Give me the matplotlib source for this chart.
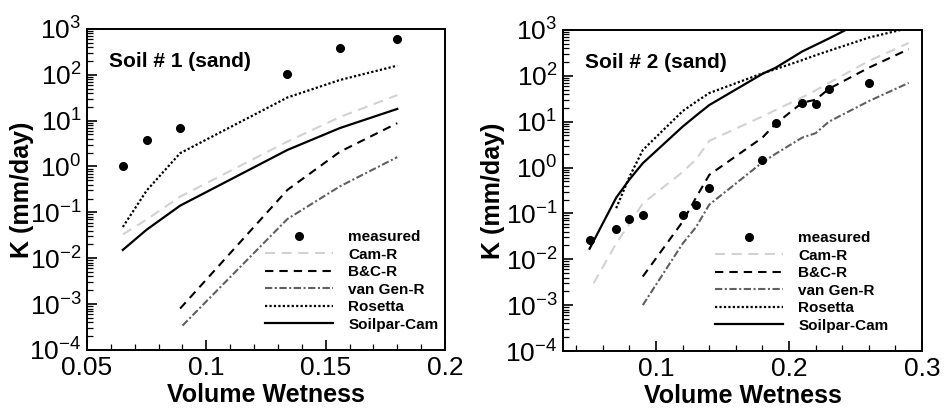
import matplotlib
matplotlib.use('Agg')
import matplotlib.pyplot as plt
from matplotlib.ticker import LogLocator, MultipleLocator, NullFormatter

plt.rcParams['font.family'] = ['Liberation Sans', 'DejaVu Sans']
plt.rcParams['mathtext.fontset'] = 'custom'
plt.rcParams['mathtext.rm'] = 'Liberation Sans'
plt.rcParams['mathtext.it'] = 'Liberation Sans:italic'
plt.rcParams['mathtext.bf'] = 'Liberation Sans:bold'

#--- Soil # 1

s1_measured_x = [0.065, 0.075, 0.089, 0.134, 0.156, 0.18]
s1_measured_k = [1.0, 3.7, 7.0, 105, 390, 610]

s1_model_x = [0.065, 0.075, 0.089, 0.134, 0.156, 0.18]
s1_cam_r = [0.033, 0.07, 0.22, 3.5, 12, 36]
s1_rosetta = [0.048, 0.3, 1.95, 32, 77, 158]
s1_soilpar = [0.0152, 0.042, 0.14, 2.3, 6.9, 18]

s1_bc_x = [0.089, 0.134, 0.156, 0.18]
s1_bc_r = [0.0008, 0.31, 2.1, 8.8]
s1_vg_x = [0.09, 0.134, 0.156, 0.18]
s1_vg_r = [0.00034, 0.072, 0.37, 1.6]

s1_xticks = [0.05, 0.1, 0.15, 0.2]

#--- Soil # 2

s2_measured_x = [0.05, 0.07, 0.08, 0.09, 0.12, 0.13, 0.14, 0.18, 0.19, 0.21, 0.22, 0.23, 0.26]
s2_measured_k = [0.026, 0.046, 0.076, 0.093, 0.093, 0.153, 0.355, 1.45, 9.2, 26, 24.3, 51, 71]

s2_cam_x = [0.053, 0.07, 0.08, 0.09, 0.12, 0.13, 0.14, 0.18, 0.19, 0.21, 0.22, 0.23, 0.26, 0.29]
s2_cam_r = [0.003, 0.022, 0.06, 0.165, 0.8, 1.5, 3.8, 13, 18, 34, 48, 70, 210, 520]

s2_bc_x = [0.09, 0.12, 0.13, 0.14, 0.18, 0.19, 0.21, 0.22, 0.23, 0.26, 0.29]
s2_bc_r = [0.0042, 0.066, 0.22, 0.69, 4.5, 9, 26, 30, 52, 150, 380]
s2_vg_r = [0.001, 0.022, 0.05, 0.155, 1.3, 2.0, 4.5, 5.6, 10, 28, 70]

s2_rosetta_x = [0.07, 0.08, 0.09, 0.12, 0.13, 0.14, 0.18, 0.19, 0.21, 0.22, 0.23, 0.26, 0.29]
s2_rosetta = [0.13, 0.63, 2.4, 17, 27, 42, 113, 140, 220, 280, 350, 680, 1100]

s2_soilpar_x = [0.05, 0.07, 0.08, 0.09, 0.12, 0.13, 0.14, 0.18, 0.19, 0.21, 0.22, 0.23, 0.26, 0.29]
s2_soilpar = [0.017, 0.22, 0.55, 1.24, 7.8, 13.5, 23, 110, 150, 340, 470, 650, 1800, 3000]

s2_xticks = [0.1, 0.2, 0.3]

k_ticks = [1e-4, 1e-3, 1e-2, 1e-1, 1e0, 1e1, 1e2, 1e3]

#---

CAM_STYLE = dict(color='#d2d2d2', lw=1.5, ls=(0, (4.8, 3.2)))
BC_STYLE = dict(color='black', lw=1.5, ls=(0, (4, 2.9)))
VG_STYLE = dict(color='#606060', lw=1.5, ls=(0, (3.5, 1.2, 1, 1.2)))
ROS_STYLE = dict(color='black', lw=1.6, ls=(0, (1, 1)))
SOIL_STYLE = dict(color='black', lw=1.6, ls='-')


def DrawPanel(ax, title, mx, mk, curves, xlim, xticks, xminor, legend_x, ylabel_x):
    ax.plot(mx, mk, 'o', color='black', ms=5.5, label='measured', zorder=5)
    for x, y, style, label in curves:
        ax.plot(x, y, label=label, **style)

    ax.set_yscale('log')
    ax.set_ylim(1e-4, 1e3)
    ax.set_xlim(*xlim)
    ax.set_xticks(xticks)
    ax.set_xticklabels([f'{v:g}' for v in xticks])
    ax.xaxis.set_minor_locator(MultipleLocator(xminor))
    ax.set_yticks(k_ticks)
    ax.yaxis.set_minor_locator(LogLocator(base=10, subs=range(2, 10), numticks=20))
    ax.yaxis.set_minor_formatter(NullFormatter())
    ax.set_ylim(1e-4, 1e3)
    ax.set_xlim(*xlim)

    ax.tick_params(which='both', direction='in', top=False, right=False, labelsize=19)
    ax.tick_params(which='major', length=7, width=1.2)
    ax.tick_params(which='minor', length=4, width=0.9)
    ax.tick_params(axis='x', pad=4)
    ax.tick_params(axis='y', pad=4)
    for s in ax.spines.values():
        s.set_linewidth(1.4)

    # labels
    ax.set_xlabel('Volume Wetness', fontsize=18, fontweight='bold', labelpad=2.5)
    ax.set_ylabel('K (mm/day)', fontsize=18, fontweight='bold')
    ax.yaxis.set_label_coords(ylabel_x, 0.5)
    ax.text(0.062, 0.897, title, transform=ax.transAxes, fontsize=15,
            fontweight='bold', va='center', ha='left')

    ax.legend(loc='upper left', bbox_to_anchor=(legend_x, 0.373), frameon=False,
              prop={'weight': 'bold', 'size': 11}, labelspacing=0.23,
              handlelength=4.45, handletextpad=1.0, borderpad=0, borderaxespad=0,
              numpoints=1)


fig = plt.figure(figsize=(9.44, 4.08), dpi=100)
ax1 = fig.add_axes([0.0922, 0.1422, 0.3792, 0.787])
ax2 = fig.add_axes([0.5964, 0.1397, 0.3803, 0.787])

DrawPanel(ax1, 'Soil # 1 (sand)', s1_measured_x, s1_measured_k,
          [(s1_model_x, s1_cam_r, CAM_STYLE, 'Cam-R'),
           (s1_bc_x, s1_bc_r, BC_STYLE, 'B&C-R'),
           (s1_vg_x, s1_vg_r, VG_STYLE, 'van Gen-R'),
           (s1_model_x, s1_rosetta, ROS_STYLE, 'Rosetta'),
           (s1_model_x, s1_soilpar, SOIL_STYLE, 'Soilpar-Cam')],
          (0.05, 0.2), s1_xticks, 0.01, 0.497, -0.148)

DrawPanel(ax2, 'Soil # 2 (sand)', s2_measured_x, s2_measured_k,
          [(s2_cam_x, s2_cam_r, CAM_STYLE, 'Cam-R'),
           (s2_bc_x, s2_bc_r, BC_STYLE, 'B&C-R'),
           (s2_bc_x, s2_vg_r, VG_STYLE, 'van Gen-R'),
           (s2_rosetta_x, s2_rosetta, ROS_STYLE, 'Rosetta'),
           (s2_soilpar_x, s2_soilpar, SOIL_STYLE, 'Soilpar-Cam')],
          (0.03, 0.3), s2_xticks, 0.02, 0.423, -0.161)

fig.savefig('out.png', dpi=100)
